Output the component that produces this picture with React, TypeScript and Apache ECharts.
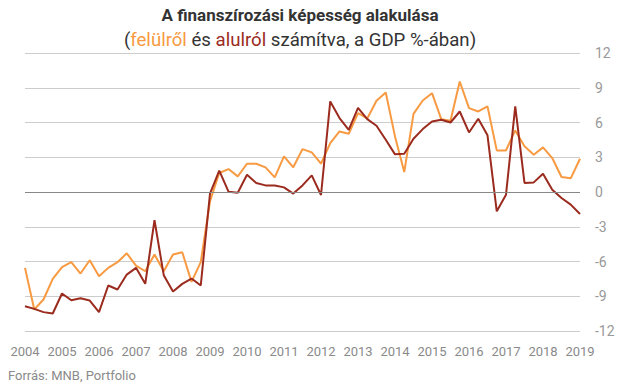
import React, { useEffect, useRef } from "react";
import * as echarts from "echarts";

const years = ["2004","2005","2006","2007","2008","2009","2010","2011","2012","2013","2014","2015","2016","2017","2018","2019"];
const quarters = ["Q1", "Q2", "Q3", "Q4"];

const felulrol = [
  -6.55, -10.14, -9.28, -7.5, -6.49, -6.06, -7.04, -5.89, -7.27, -6.55,
  -6.06, -5.29, -6.35, -6.84, -5.4, -6.84, -5.4, -5.2, -7.76, -6.06,
  -0.8, 1.64, 1.98, 1.35, 2.44, 2.44, 2.13, 1.26, 3.07, 2.13,
  3.7, 3.42, 2.44, 4.22, 5.23, 5.03, 6.81, 6.35, 7.87, 8.59,
  4.8, 1.72, 6.75, 7.9, 8.53, 6.29, 6.15, 9.54, 7.24, 6.95,
  7.39, 3.59, 3.59, 5.32, 3.94, 3.22, 3.85, 2.93, 1.29, 1.18,
  2.87,
];

const alulrol = [
  -9.86, -10.09, -10.37, -10.49, -8.76, -9.34, -9.17, -9.37, -10.37, -8.07,
  -8.42, -7.13, -6.55, -7.93, -2.44, -7.18, -8.59, -7.93, -7.47, -8.07,
  -0.14, 1.84, 0.03, -0.06, 1.49, 0.78, 0.57, 0.57, 0.4, -0.14,
  0.57, 1.44, -0.26, 7.82, 6.38, 5.37, 7.27, 6.29, 5.72, 4.51,
  3.25, 3.3, 4.6, 5.43, 6.09, 6.24, 6.0, 6.95, 5.14, 6.32,
  4.89, -1.67, -0.23, 7.39, 0.78, 0.83, 1.58, 0.2, -0.52, -1.09,
  -1.9,
];

const categories: string[] = [];
years.forEach((y) => quarters.forEach((q) => categories.push(y + " " + q)));
const cats = categories.slice(0, felulrol.length);

const ORANGE = "#f79a42";
const RED = "#9b2b1e";
const FONT = "Roboto";

export default function App() {
  const ref = useRef<HTMLDivElement>(null);
  useEffect(() => {
    if (!ref.current) return;
    const chart = echarts.init(ref.current, null, { renderer: "svg" });
    chart.setOption({
      animation: false,
      textStyle: { fontFamily: FONT },
      grid: { left: 25, right: 38, top: 53, bottom: 59, containLabel: false },
      xAxis: {
        type: "category",
        data: cats,
        boundaryGap: false,
        axisLine: { show: false },
        axisTick: { show: false },
        axisLabel: {
          interval: 3,
          margin: 14,
          color: "#8a8a8a",
          fontSize: 13,
          fontFamily: FONT,
          formatter: (v: string) => v.split(" ")[0],
        },
        splitLine: { show: false },
      },
      yAxis: {
        type: "value",
        position: "right",
        min: -12,
        max: 12,
        interval: 3,
        axisLine: { show: false },
        axisTick: { show: false },
        axisLabel: { margin: 15, color: "#999999", fontSize: 14, fontFamily: FONT },
        splitLine: { lineStyle: { color: "#cccccc", width: 1 } },
      },
      series: [
        {
          name: "felülről",
          type: "line",
          data: felulrol,
          symbol: "none",
          lineStyle: { color: ORANGE, width: 2 },
          itemStyle: { color: ORANGE },
          z: 2,
          markLine: {
            silent: true,
            symbol: "none",
            label: { show: false },
            lineStyle: { color: "#888888", width: 1, type: "solid" },
            data: [{ yAxis: 0 }],
          },
        },
        {
          name: "alulról",
          type: "line",
          data: alulrol,
          symbol: "none",
          lineStyle: { color: RED, width: 2 },
          itemStyle: { color: RED },
          z: 3,
        },
      ],
      graphic: [
        {
          type: "text",
          x: 300,
          y: 15,
          style: {
            text: "A finanszírozási képesség alakulása",
            fill: "#333333",
            fontSize: 17,
            fontWeight: "bold",
            fontFamily: FONT,
            align: "center",
            verticalAlign: "middle",
          },
        },
        {
          type: "text",
          x: 300,
          y: 40,
          style: {
            text: "({o|felülről} és {r|alulról} számítva, a GDP %-ában)",
            fill: "#333333",
            fontSize: 18.6,
            fontFamily: FONT,
            align: "center",
            verticalAlign: "middle",
            rich: {
              o: { fill: ORANGE, fontSize: 18.6, fontFamily: FONT },
              r: { fill: RED, fontSize: 18.6, fontFamily: FONT },
            },
          },
        },
        {
          type: "text",
          left: 8,
          top: 369,
          style: { text: "Forrás: MNB, Portfolio", fill: "#8a8a8a", fontSize: 13, fontFamily: FONT },
        },
      ],
    });
    return () => chart.dispose();
  }, []);
  return (
    <div
      ref={ref}
      style={{ position: "absolute", left: 0, top: 0, width: 618, height: 390 }}
    />
  );
}
